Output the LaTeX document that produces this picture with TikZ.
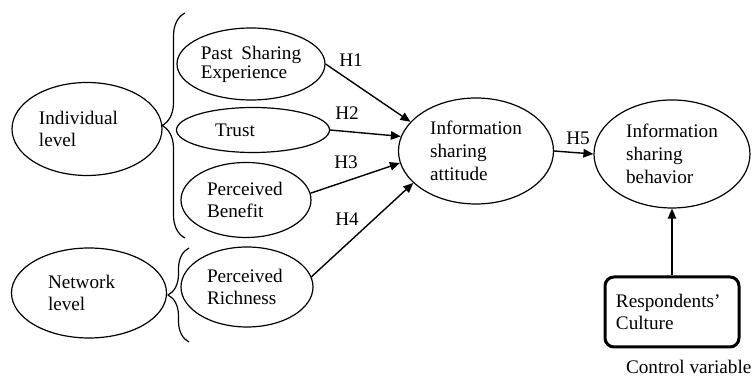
\documentclass[tikz,border=0pt]{standalone}
\usepackage{fontspec}
\setmainfont{Liberation Serif}
\usetikzlibrary{arrows.meta,decorations.pathreplacing,shapes.geometric}
\begin{document}
\begin{tikzpicture}[x=0.5pt, y=-0.5pt,
  every node/.style = {font=\fontsize{9.6}{11.4}\selectfont},
  construct/.style = {draw, ellipse, line width=0.6pt, inner sep=0pt, align=left},
  path/.style = {line width=0.7pt, -{Triangle[length=5pt,width=4.2pt]}},
  curly/.style = {line width=0.6pt, decorate}]
\useasboundingbox (0,0) rectangle (752,378);
%%%% Levels:
\node[construct, minimum width=75pt, minimum height=46.5pt, text width=48pt] (ind) at (87,129) {Individual\\level};
\node[construct, minimum width=77.5pt, minimum height=45pt, text width=41pt] (net) at (89,293) {Network\\level};
%%%% Braces
\draw[curly, decoration={brace, amplitude=11.5pt}] (185,238) -- (185,13);
\draw[curly, decoration={brace, amplitude=10.5pt}] (189,342) -- (189,248);
%%%% Antecedents:
\node[construct, minimum width=74pt, minimum height=36pt] (pse) at (251,64) {Past\hspace{0.45em}Sharing\\[-2pt]Experience};
\node[construct, minimum width=76.5pt, minimum height=22.5pt, text width=38pt] (tru) at (253,130) {Trust};
\node[construct, minimum width=65pt, minimum height=37.5pt, text width=39pt] (ben) at (246,200) {Perceived\\Benefit};
\node[construct, minimum width=66pt, minimum height=40pt, text width=40pt] (ric) at (247,287) {Perceived\\Richness};
%%%% Attitude and behavior
\node[construct, minimum width=77.5pt, minimum height=53pt] (att) at (476,151) {Information\\sharing\\attitude};
\node[construct, minimum width=78pt, minimum height=54pt] (beh) at (672,154) {Information\\sharing\\behavior};
%%%% Control variable
\node[draw, line width=1.5pt, rounded corners=4.5pt, minimum width=67pt, minimum height=35pt, text width=56pt, align=left] (cul) at (672,312) {Respondents'\\Culture};
\node[anchor=west] (ctl) at (619,367) {Control variable};
%%%% Hypotheses:
\draw[path] (pse.east) -- (att.156);
\draw[path] (tru.east) -- (att.169);
\draw[path] (ben.6) -- (att.189);
\draw[path] (ric.9) -- (att.207);
\draw[path] (att.east) -- (beh.west);
\draw[path] (cul.north) -- (beh.south);
\node (h1) at (351,60) {H1};
\node (h2) at (347,113) {H2};
\node (h3) at (346,162) {H3};
\node (h4) at (347,219) {H4};
\node (h5) at (578,138) {H5};
\end{tikzpicture}
\end{document}
